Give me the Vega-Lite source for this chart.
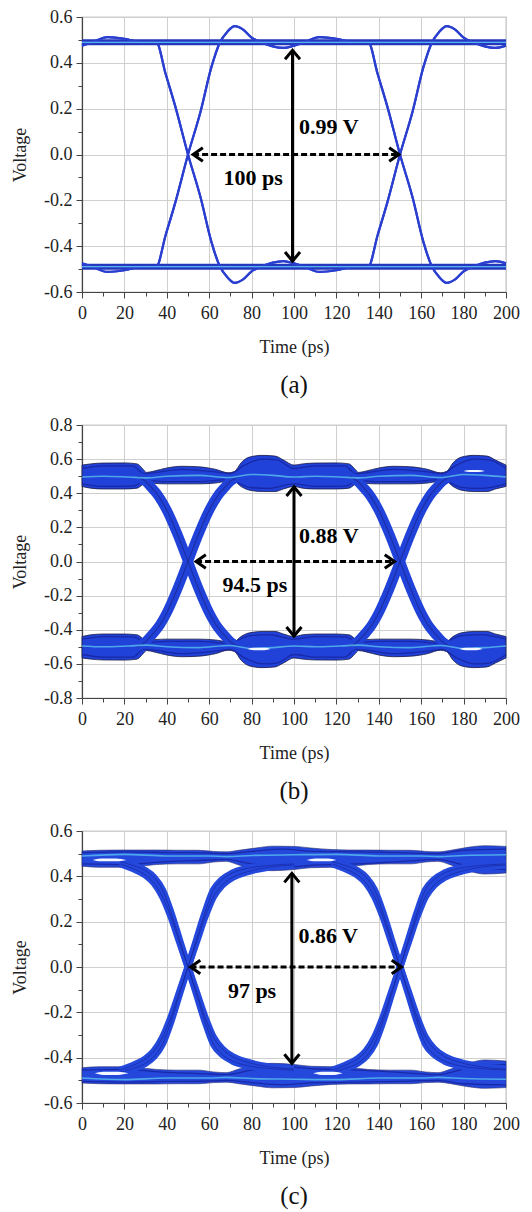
{
  "$schema": "https://vega.github.io/schema/vega-lite/v6.json",
  "padding": {"left": 10, "top": 7, "right": 10, "bottom": 5},
  "spacing": 16,
  "config": {
    "font": "Liberation Serif",
    "view": {"stroke": "#999999", "strokeWidth": 1.2},
    "axis": {"labelFont": "Liberation Serif", "titleFont": "Liberation Serif", "labelFontSize": 18, "titleFontSize": 18, "titleFontWeight": "normal", "labelColor": "#222222", "titleColor": "#222222", "gridColor": "#cfcfcf", "gridWidth": 1, "domainColor": "#444444", "domainWidth": 1.2, "tickColor": "#444444", "tickWidth": 1, "labelOverlap": false, "labelFlush": false},
    "axisX": {"labelPadding": 6, "titlePadding": 16},
    "axisY": {"labelPadding": 4, "titlePadding": 14},
    "title": {"font": "Liberation Serif", "fontSize": 25, "fontWeight": "normal", "color": "#111111", "offset": 17}
  },
  "datasets": {
    "a_tr": [
      {"id":"a1","t":0,"v":0.475},{"id":"a1","t":5,"v":0.49},{"id":"a1","t":12,"v":0.512},{"id":"a1","t":20,"v":0.505},{"id":"a1","t":28,"v":0.49},
      {"id":"a1","t":35,"v":0.49},{"id":"a1","t":39.5,"v":0.35},{"id":"a1","t":44,"v":0.21},{"id":"a1","t":50,"v":0},{"id":"a1","t":56,"v":-0.19},{"id":"a1","t":61,"v":-0.38},{"id":"a1","t":65,"v":-0.488},{"id":"a1","t":68.5,"v":-0.535},{"id":"a1","t":72,"v":-0.56},{"id":"a1","t":76,"v":-0.545},{"id":"a1","t":80,"v":-0.51},{"id":"a1","t":85,"v":-0.488},{"id":"a1","t":90,"v":-0.472},{"id":"a1","t":95,"v":-0.465},{"id":"a1","t":100,"v":-0.475},{"id":"a1","t":105,"v":-0.49},{"id":"a1","t":112,"v":-0.512},{"id":"a1","t":120,"v":-0.505},{"id":"a1","t":128,"v":-0.49},
      {"id":"a1","t":135,"v":-0.49},{"id":"a1","t":139.5,"v":-0.35},{"id":"a1","t":144,"v":-0.21},{"id":"a1","t":150,"v":0},{"id":"a1","t":156,"v":0.19},{"id":"a1","t":161,"v":0.38},{"id":"a1","t":165,"v":0.488},{"id":"a1","t":168.5,"v":0.535},{"id":"a1","t":172,"v":0.56},{"id":"a1","t":176,"v":0.545},{"id":"a1","t":180,"v":0.51},{"id":"a1","t":185,"v":0.488},{"id":"a1","t":190,"v":0.472},{"id":"a1","t":195,"v":0.465},{"id":"a1","t":200,"v":0.475},
      {"id":"a2","t":0,"v":0.49},{"id":"a2","t":35,"v":0.49},{"id":"a2","t":39.5,"v":0.35},{"id":"a2","t":44,"v":0.21},{"id":"a2","t":50,"v":0},{"id":"a2","t":56,"v":-0.19},{"id":"a2","t":61,"v":-0.38},{"id":"a2","t":65,"v":-0.488},{"id":"a2","t":68.5,"v":-0.535},{"id":"a2","t":72,"v":-0.56},{"id":"a2","t":76,"v":-0.545},{"id":"a2","t":80,"v":-0.51},{"id":"a2","t":85,"v":-0.488},{"id":"a2","t":90,"v":-0.472},{"id":"a2","t":95,"v":-0.465},{"id":"a2","t":100,"v":-0.475},{"id":"a2","t":105,"v":-0.49},{"id":"a2","t":112,"v":-0.512},{"id":"a2","t":120,"v":-0.505},{"id":"a2","t":128,"v":-0.49},{"id":"a2","t":200,"v":-0.49},
      {"id":"a3","t":0,"v":-0.475},{"id":"a3","t":5,"v":-0.49},{"id":"a3","t":12,"v":-0.512},{"id":"a3","t":20,"v":-0.505},{"id":"a3","t":28,"v":-0.49},
      {"id":"a3","t":35,"v":-0.49},{"id":"a3","t":39.5,"v":-0.35},{"id":"a3","t":44,"v":-0.21},{"id":"a3","t":50,"v":0},{"id":"a3","t":56,"v":0.19},{"id":"a3","t":61,"v":0.38},{"id":"a3","t":65,"v":0.488},{"id":"a3","t":68.5,"v":0.535},{"id":"a3","t":72,"v":0.56},{"id":"a3","t":76,"v":0.545},{"id":"a3","t":80,"v":0.51},{"id":"a3","t":85,"v":0.488},{"id":"a3","t":90,"v":0.472},{"id":"a3","t":95,"v":0.465},{"id":"a3","t":100,"v":0.475},{"id":"a3","t":105,"v":0.49},{"id":"a3","t":112,"v":0.512},{"id":"a3","t":120,"v":0.505},{"id":"a3","t":128,"v":0.49},
      {"id":"a3","t":135,"v":0.49},{"id":"a3","t":139.5,"v":0.35},{"id":"a3","t":144,"v":0.21},{"id":"a3","t":150,"v":0},{"id":"a3","t":156,"v":-0.19},{"id":"a3","t":161,"v":-0.38},{"id":"a3","t":165,"v":-0.488},{"id":"a3","t":168.5,"v":-0.535},{"id":"a3","t":172,"v":-0.56},{"id":"a3","t":176,"v":-0.545},{"id":"a3","t":180,"v":-0.51},{"id":"a3","t":185,"v":-0.488},{"id":"a3","t":190,"v":-0.472},{"id":"a3","t":195,"v":-0.465},{"id":"a3","t":200,"v":-0.475},
      {"id":"a4","t":0,"v":-0.49},{"id":"a4","t":35,"v":-0.49},{"id":"a4","t":39.5,"v":-0.35},{"id":"a4","t":44,"v":-0.21},{"id":"a4","t":50,"v":0},{"id":"a4","t":56,"v":0.19},{"id":"a4","t":61,"v":0.38},{"id":"a4","t":65,"v":0.488},{"id":"a4","t":68.5,"v":0.535},{"id":"a4","t":72,"v":0.56},{"id":"a4","t":76,"v":0.545},{"id":"a4","t":80,"v":0.51},{"id":"a4","t":85,"v":0.488},{"id":"a4","t":90,"v":0.472},{"id":"a4","t":95,"v":0.465},{"id":"a4","t":100,"v":0.475},{"id":"a4","t":105,"v":0.49},{"id":"a4","t":112,"v":0.512},{"id":"a4","t":120,"v":0.505},{"id":"a4","t":128,"v":0.49},{"id":"a4","t":200,"v":0.49},
      {"id":"a5","t":0,"v":0.475},{"id":"a5","t":5,"v":0.49},{"id":"a5","t":12,"v":0.512},{"id":"a5","t":20,"v":0.505},{"id":"a5","t":28,"v":0.49},{"id":"a5","t":135,"v":0.49},{"id":"a5","t":139.5,"v":0.35},{"id":"a5","t":144,"v":0.21},{"id":"a5","t":150,"v":0},{"id":"a5","t":156,"v":-0.19},{"id":"a5","t":161,"v":-0.38},{"id":"a5","t":165,"v":-0.488},{"id":"a5","t":168.5,"v":-0.535},{"id":"a5","t":172,"v":-0.56},{"id":"a5","t":176,"v":-0.545},{"id":"a5","t":180,"v":-0.51},{"id":"a5","t":185,"v":-0.488},{"id":"a5","t":190,"v":-0.472},{"id":"a5","t":195,"v":-0.465},{"id":"a5","t":200,"v":-0.475},
      {"id":"a6","t":0,"v":-0.475},{"id":"a6","t":5,"v":-0.49},{"id":"a6","t":12,"v":-0.512},{"id":"a6","t":20,"v":-0.505},{"id":"a6","t":28,"v":-0.49},{"id":"a6","t":135,"v":-0.49},{"id":"a6","t":139.5,"v":-0.35},{"id":"a6","t":144,"v":-0.21},{"id":"a6","t":150,"v":0},{"id":"a6","t":156,"v":0.19},{"id":"a6","t":161,"v":0.38},{"id":"a6","t":165,"v":0.488},{"id":"a6","t":168.5,"v":0.535},{"id":"a6","t":172,"v":0.56},{"id":"a6","t":176,"v":0.545},{"id":"a6","t":180,"v":0.51},{"id":"a6","t":185,"v":0.488},{"id":"a6","t":190,"v":0.472},{"id":"a6","t":195,"v":0.465},{"id":"a6","t":200,"v":0.475},
      {"id":"a7","t":0,"v":0.49},{"id":"a7","t":200,"v":0.49},
      {"id":"a8","t":0,"v":-0.49},{"id":"a8","t":200,"v":-0.49}
    ],
    "a_lv": [
      {"id":"l1","t":0,"v":0.483},{"id":"l1","t":200,"v":0.483},
      {"id":"l2","t":0,"v":0.496},{"id":"l2","t":200,"v":0.496},
      {"id":"l3","t":0,"v":-0.483},{"id":"l3","t":200,"v":-0.483},
      {"id":"l4","t":0,"v":-0.496},{"id":"l4","t":200,"v":-0.496}
    ],
    "a_cy": [
      {"id":"c1","t":0,"v":0.489},{"id":"c1","t":200,"v":0.489},
      {"id":"c2","t":0,"v":-0.489},{"id":"c2","t":200,"v":-0.489}
    ],
    "b_band": [
      {"id":"h","t":0,"v":0.44,"v2":0.565},{"id":"h","t":4,"v":0.43,"v2":0.572},{"id":"h","t":10,"v":0.425,"v2":0.577},{"id":"h","t":20,"v":0.425,"v2":0.578},{"id":"h","t":26,"v":0.43,"v2":0.572},{"id":"h","t":28.5,"v":0.45,"v2":0.545},{"id":"h","t":30.5,"v":0.468,"v2":0.522},{"id":"h","t":34,"v":0.458,"v2":0.53},{"id":"h","t":40,"v":0.455,"v2":0.548},{"id":"h","t":47,"v":0.455,"v2":0.558},{"id":"h","t":55,"v":0.455,"v2":0.555},{"id":"h","t":63,"v":0.46,"v2":0.54},{"id":"h","t":69,"v":0.47,"v2":0.52},{"id":"h","t":72,"v":0.468,"v2":0.528},{"id":"h","t":75,"v":0.44,"v2":0.578},{"id":"h","t":79,"v":0.418,"v2":0.612},{"id":"h","t":85,"v":0.41,"v2":0.622},{"id":"h","t":91,"v":0.41,"v2":0.618},{"id":"h","t":95,"v":0.425,"v2":0.595},{"id":"h","t":100,"v":0.44,"v2":0.565},
      {"id":"h","t":104,"v":0.43,"v2":0.572},{"id":"h","t":110,"v":0.425,"v2":0.577},{"id":"h","t":120,"v":0.425,"v2":0.578},{"id":"h","t":126,"v":0.43,"v2":0.572},{"id":"h","t":128.5,"v":0.45,"v2":0.545},{"id":"h","t":130.5,"v":0.468,"v2":0.522},{"id":"h","t":134,"v":0.458,"v2":0.53},{"id":"h","t":140,"v":0.455,"v2":0.548},{"id":"h","t":147,"v":0.455,"v2":0.558},{"id":"h","t":155,"v":0.455,"v2":0.555},{"id":"h","t":163,"v":0.46,"v2":0.54},{"id":"h","t":169,"v":0.47,"v2":0.52},{"id":"h","t":172,"v":0.468,"v2":0.528},{"id":"h","t":175,"v":0.44,"v2":0.578},{"id":"h","t":179,"v":0.418,"v2":0.612},{"id":"h","t":185,"v":0.41,"v2":0.622},{"id":"h","t":191,"v":0.41,"v2":0.618},{"id":"h","t":195,"v":0.425,"v2":0.595},{"id":"h","t":200,"v":0.44,"v2":0.565},
      {"id":"l","t":0,"v":-0.565,"v2":-0.44},{"id":"l","t":4,"v":-0.572,"v2":-0.43},{"id":"l","t":10,"v":-0.577,"v2":-0.425},{"id":"l","t":20,"v":-0.578,"v2":-0.425},{"id":"l","t":26,"v":-0.572,"v2":-0.43},{"id":"l","t":28.5,"v":-0.545,"v2":-0.45},{"id":"l","t":30.5,"v":-0.522,"v2":-0.468},{"id":"l","t":34,"v":-0.53,"v2":-0.458},{"id":"l","t":40,"v":-0.548,"v2":-0.455},{"id":"l","t":47,"v":-0.558,"v2":-0.455},{"id":"l","t":55,"v":-0.555,"v2":-0.455},{"id":"l","t":63,"v":-0.54,"v2":-0.46},{"id":"l","t":69,"v":-0.52,"v2":-0.47},{"id":"l","t":72,"v":-0.528,"v2":-0.468},{"id":"l","t":75,"v":-0.578,"v2":-0.44},{"id":"l","t":79,"v":-0.612,"v2":-0.418},{"id":"l","t":85,"v":-0.622,"v2":-0.41},{"id":"l","t":91,"v":-0.618,"v2":-0.41},{"id":"l","t":95,"v":-0.595,"v2":-0.425},{"id":"l","t":100,"v":-0.565,"v2":-0.44},
      {"id":"l","t":104,"v":-0.572,"v2":-0.43},{"id":"l","t":110,"v":-0.577,"v2":-0.425},{"id":"l","t":120,"v":-0.578,"v2":-0.425},{"id":"l","t":126,"v":-0.572,"v2":-0.43},{"id":"l","t":128.5,"v":-0.545,"v2":-0.45},{"id":"l","t":130.5,"v":-0.522,"v2":-0.468},{"id":"l","t":134,"v":-0.53,"v2":-0.458},{"id":"l","t":140,"v":-0.548,"v2":-0.455},{"id":"l","t":147,"v":-0.558,"v2":-0.455},{"id":"l","t":155,"v":-0.555,"v2":-0.455},{"id":"l","t":163,"v":-0.54,"v2":-0.46},{"id":"l","t":169,"v":-0.52,"v2":-0.47},{"id":"l","t":172,"v":-0.528,"v2":-0.468},{"id":"l","t":175,"v":-0.578,"v2":-0.44},{"id":"l","t":179,"v":-0.612,"v2":-0.418},{"id":"l","t":185,"v":-0.622,"v2":-0.41},{"id":"l","t":191,"v":-0.618,"v2":-0.41},{"id":"l","t":195,"v":-0.595,"v2":-0.425},{"id":"l","t":200,"v":-0.565,"v2":-0.44}
    ],
    "b_edge": [
      {"id":"f1","t":26,"v":0.5},{"id":"f1","t":30,"v":0.47},{"id":"f1","t":33,"v":0.43},{"id":"f1","t":36,"v":0.385},{"id":"f1","t":40,"v":0.3},{"id":"f1","t":45,"v":0.16},{"id":"f1","t":50,"v":0},{"id":"f1","t":55,"v":-0.16},{"id":"f1","t":60,"v":-0.3},{"id":"f1","t":64,"v":-0.385},{"id":"f1","t":67,"v":-0.43},{"id":"f1","t":70,"v":-0.47},{"id":"f1","t":74,"v":-0.5},
      {"id":"r1","t":26,"v":-0.5},{"id":"r1","t":30,"v":-0.47},{"id":"r1","t":33,"v":-0.43},{"id":"r1","t":36,"v":-0.385},{"id":"r1","t":40,"v":-0.3},{"id":"r1","t":45,"v":-0.16},{"id":"r1","t":50,"v":0},{"id":"r1","t":55,"v":0.16},{"id":"r1","t":60,"v":0.3},{"id":"r1","t":64,"v":0.385},{"id":"r1","t":67,"v":0.43},{"id":"r1","t":70,"v":0.47},{"id":"r1","t":74,"v":0.5},
      {"id":"f2","t":126,"v":0.5},{"id":"f2","t":130,"v":0.47},{"id":"f2","t":133,"v":0.43},{"id":"f2","t":136,"v":0.385},{"id":"f2","t":140,"v":0.3},{"id":"f2","t":145,"v":0.16},{"id":"f2","t":150,"v":0},{"id":"f2","t":155,"v":-0.16},{"id":"f2","t":160,"v":-0.3},{"id":"f2","t":164,"v":-0.385},{"id":"f2","t":167,"v":-0.43},{"id":"f2","t":170,"v":-0.47},{"id":"f2","t":174,"v":-0.5},
      {"id":"r2","t":126,"v":-0.5},{"id":"r2","t":130,"v":-0.47},{"id":"r2","t":133,"v":-0.43},{"id":"r2","t":136,"v":-0.385},{"id":"r2","t":140,"v":-0.3},{"id":"r2","t":145,"v":-0.16},{"id":"r2","t":150,"v":0},{"id":"r2","t":155,"v":0.16},{"id":"r2","t":160,"v":0.3},{"id":"r2","t":164,"v":0.385},{"id":"r2","t":167,"v":0.43},{"id":"r2","t":170,"v":0.47},{"id":"r2","t":174,"v":0.5}
    ],
    "b_lens": [
      {"id":"k1","t":78,"v":-0.513,"v2":-0.513},{"id":"k1","t":81,"v":-0.52,"v2":-0.506},{"id":"k1","t":86,"v":-0.52,"v2":-0.506},{"id":"k1","t":89,"v":-0.513,"v2":-0.513},
      {"id":"k2","t":178,"v":-0.513,"v2":-0.513},{"id":"k2","t":181,"v":-0.52,"v2":-0.506},{"id":"k2","t":186,"v":-0.52,"v2":-0.506},{"id":"k2","t":189,"v":-0.513,"v2":-0.513},
      {"id":"k3","t":180,"v":0.53,"v2":0.53},{"id":"k3","t":183,"v":0.524,"v2":0.536},{"id":"k3","t":187,"v":0.524,"v2":0.536},{"id":"k3","t":190,"v":0.53,"v2":0.53}
    ],
    "b_tex": [
      {"id":"h1","t":0,"v":0.495},{"id":"h1","t":10,"v":0.5},{"id":"h1","t":22,"v":0.495},{"id":"h1","t":30.5,"v":0.49},{"id":"h1","t":40,"v":0.5},{"id":"h1","t":55,"v":0.505},{"id":"h1","t":69,"v":0.492},{"id":"h1","t":72,"v":0.495},{"id":"h1","t":80,"v":0.51},{"id":"h1","t":90,"v":0.505},{"id":"h1","t":100,"v":0.495},{"id":"h1","t":110,"v":0.5},{"id":"h1","t":122,"v":0.495},{"id":"h1","t":130.5,"v":0.49},{"id":"h1","t":140,"v":0.5},{"id":"h1","t":155,"v":0.505},{"id":"h1","t":169,"v":0.492},{"id":"h1","t":172,"v":0.495},{"id":"h1","t":180,"v":0.51},{"id":"h1","t":190,"v":0.505},{"id":"h1","t":200,"v":0.495},
      {"id":"l1","t":0,"v":-0.495},{"id":"l1","t":10,"v":-0.5},{"id":"l1","t":22,"v":-0.495},{"id":"l1","t":30.5,"v":-0.49},{"id":"l1","t":40,"v":-0.5},{"id":"l1","t":55,"v":-0.505},{"id":"l1","t":69,"v":-0.492},{"id":"l1","t":72,"v":-0.495},{"id":"l1","t":80,"v":-0.51},{"id":"l1","t":90,"v":-0.505},{"id":"l1","t":100,"v":-0.495},{"id":"l1","t":110,"v":-0.5},{"id":"l1","t":122,"v":-0.495},{"id":"l1","t":130.5,"v":-0.49},{"id":"l1","t":140,"v":-0.5},{"id":"l1","t":155,"v":-0.505},{"id":"l1","t":169,"v":-0.492},{"id":"l1","t":172,"v":-0.495},{"id":"l1","t":180,"v":-0.51},{"id":"l1","t":190,"v":-0.505},{"id":"l1","t":200,"v":-0.495}
    ],
    "b_dark": [
      {"id":"h2","t":0,"v":0.545},{"id":"h2","t":10,"v":0.56},{"id":"h2","t":24,"v":0.56},{"id":"h2","t":29,"v":0.515},{"id":"h2","t":34,"v":0.52},{"id":"h2","t":47,"v":0.54},{"id":"h2","t":63,"v":0.525},{"id":"h2","t":70,"v":0.515},{"id":"h2","t":76,"v":0.56},{"id":"h2","t":85,"v":0.6},{"id":"h2","t":92,"v":0.595},{"id":"h2","t":100,"v":0.545},{"id":"h2","t":110,"v":0.56},{"id":"h2","t":124,"v":0.56},{"id":"h2","t":129,"v":0.515},{"id":"h2","t":134,"v":0.52},{"id":"h2","t":147,"v":0.54},{"id":"h2","t":163,"v":0.525},{"id":"h2","t":170,"v":0.515},{"id":"h2","t":176,"v":0.56},{"id":"h2","t":185,"v":0.6},{"id":"h2","t":192,"v":0.595},{"id":"h2","t":200,"v":0.545},
      {"id":"h3","t":0,"v":0.455},{"id":"h3","t":10,"v":0.44},{"id":"h3","t":24,"v":0.442},{"id":"h3","t":30.5,"v":0.475},{"id":"h3","t":40,"v":0.468},{"id":"h3","t":55,"v":0.468},{"id":"h3","t":69,"v":0.48},{"id":"h3","t":79,"v":0.435},{"id":"h3","t":88,"v":0.428},{"id":"h3","t":100,"v":0.455},{"id":"h3","t":110,"v":0.44},{"id":"h3","t":124,"v":0.442},{"id":"h3","t":130.5,"v":0.475},{"id":"h3","t":140,"v":0.468},{"id":"h3","t":155,"v":0.468},{"id":"h3","t":169,"v":0.48},{"id":"h3","t":179,"v":0.435},{"id":"h3","t":188,"v":0.428},{"id":"h3","t":200,"v":0.455},
      {"id":"l2","t":0,"v":-0.545},{"id":"l2","t":10,"v":-0.56},{"id":"l2","t":24,"v":-0.56},{"id":"l2","t":29,"v":-0.515},{"id":"l2","t":34,"v":-0.52},{"id":"l2","t":47,"v":-0.54},{"id":"l2","t":63,"v":-0.525},{"id":"l2","t":70,"v":-0.515},{"id":"l2","t":76,"v":-0.56},{"id":"l2","t":85,"v":-0.6},{"id":"l2","t":92,"v":-0.595},{"id":"l2","t":100,"v":-0.545},{"id":"l2","t":110,"v":-0.56},{"id":"l2","t":124,"v":-0.56},{"id":"l2","t":129,"v":-0.515},{"id":"l2","t":134,"v":-0.52},{"id":"l2","t":147,"v":-0.54},{"id":"l2","t":163,"v":-0.525},{"id":"l2","t":170,"v":-0.515},{"id":"l2","t":176,"v":-0.56},{"id":"l2","t":185,"v":-0.6},{"id":"l2","t":192,"v":-0.595},{"id":"l2","t":200,"v":-0.545},
      {"id":"l3","t":0,"v":-0.455},{"id":"l3","t":10,"v":-0.44},{"id":"l3","t":24,"v":-0.442},{"id":"l3","t":30.5,"v":-0.475},{"id":"l3","t":40,"v":-0.468},{"id":"l3","t":55,"v":-0.468},{"id":"l3","t":69,"v":-0.48},{"id":"l3","t":79,"v":-0.435},{"id":"l3","t":88,"v":-0.428},{"id":"l3","t":100,"v":-0.455},{"id":"l3","t":110,"v":-0.44},{"id":"l3","t":124,"v":-0.442},{"id":"l3","t":130.5,"v":-0.475},{"id":"l3","t":140,"v":-0.468},{"id":"l3","t":155,"v":-0.468},{"id":"l3","t":169,"v":-0.48},{"id":"l3","t":179,"v":-0.435},{"id":"l3","t":188,"v":-0.428},{"id":"l3","t":200,"v":-0.455}
    ],
    "c_band": [
      {"id":"h","t":0,"v":0.445,"v2":0.512},{"id":"h","t":8,"v":0.44,"v2":0.515},{"id":"h","t":18,"v":0.44,"v2":0.516},{"id":"h","t":26,"v":0.443,"v2":0.516},{"id":"h","t":35,"v":0.452,"v2":0.516},{"id":"h","t":45,"v":0.455,"v2":0.515},{"id":"h","t":55,"v":0.455,"v2":0.515},{"id":"h","t":62,"v":0.463,"v2":0.51},{"id":"h","t":68,"v":0.466,"v2":0.508},{"id":"h","t":74,"v":0.45,"v2":0.515},{"id":"h","t":82,"v":0.432,"v2":0.525},{"id":"h","t":90,"v":0.425,"v2":0.533},{"id":"h","t":100,"v":0.43,"v2":0.532},{"id":"h","t":108,"v":0.438,"v2":0.525},{"id":"h","t":118,"v":0.44,"v2":0.518},{"id":"h","t":126,"v":0.443,"v2":0.516},{"id":"h","t":135,"v":0.452,"v2":0.516},{"id":"h","t":145,"v":0.455,"v2":0.515},{"id":"h","t":155,"v":0.455,"v2":0.515},{"id":"h","t":162,"v":0.463,"v2":0.51},{"id":"h","t":168,"v":0.466,"v2":0.508},{"id":"h","t":174,"v":0.45,"v2":0.515},{"id":"h","t":182,"v":0.425,"v2":0.528},{"id":"h","t":190,"v":0.41,"v2":0.535},{"id":"h","t":200,"v":0.415,"v2":0.532},
      {"id":"l","t":0,"v":-0.512,"v2":-0.445},{"id":"l","t":8,"v":-0.515,"v2":-0.44},{"id":"l","t":18,"v":-0.516,"v2":-0.44},{"id":"l","t":26,"v":-0.516,"v2":-0.443},{"id":"l","t":35,"v":-0.516,"v2":-0.452},{"id":"l","t":45,"v":-0.515,"v2":-0.455},{"id":"l","t":55,"v":-0.515,"v2":-0.455},{"id":"l","t":62,"v":-0.51,"v2":-0.463},{"id":"l","t":68,"v":-0.508,"v2":-0.466},{"id":"l","t":74,"v":-0.515,"v2":-0.45},{"id":"l","t":82,"v":-0.525,"v2":-0.432},{"id":"l","t":90,"v":-0.533,"v2":-0.425},{"id":"l","t":100,"v":-0.532,"v2":-0.43},{"id":"l","t":108,"v":-0.525,"v2":-0.438},{"id":"l","t":118,"v":-0.518,"v2":-0.44},{"id":"l","t":126,"v":-0.516,"v2":-0.443},{"id":"l","t":135,"v":-0.516,"v2":-0.452},{"id":"l","t":145,"v":-0.515,"v2":-0.455},{"id":"l","t":155,"v":-0.515,"v2":-0.455},{"id":"l","t":162,"v":-0.51,"v2":-0.463},{"id":"l","t":168,"v":-0.508,"v2":-0.466},{"id":"l","t":174,"v":-0.515,"v2":-0.45},{"id":"l","t":182,"v":-0.528,"v2":-0.425},{"id":"l","t":190,"v":-0.535,"v2":-0.41},{"id":"l","t":200,"v":-0.532,"v2":-0.415}
    ],
    "c_edge": [
      {"id":"f1","t":18,"v":0.465},{"id":"f1","t":25,"v":0.445},{"id":"f1","t":30,"v":0.425},{"id":"f1","t":34,"v":0.395},{"id":"f1","t":38,"v":0.34},{"id":"f1","t":42,"v":0.24},{"id":"f1","t":46,"v":0.12},{"id":"f1","t":50,"v":0},{"id":"f1","t":54,"v":-0.12},{"id":"f1","t":58,"v":-0.24},{"id":"f1","t":62,"v":-0.34},{"id":"f1","t":66,"v":-0.385},{"id":"f1","t":71,"v":-0.415},{"id":"f1","t":78,"v":-0.435},{"id":"f1","t":88,"v":-0.448},{"id":"f1","t":100,"v":-0.455},
      {"id":"r1","t":18,"v":-0.465},{"id":"r1","t":25,"v":-0.445},{"id":"r1","t":30,"v":-0.425},{"id":"r1","t":34,"v":-0.395},{"id":"r1","t":38,"v":-0.34},{"id":"r1","t":42,"v":-0.24},{"id":"r1","t":46,"v":-0.12},{"id":"r1","t":50,"v":0},{"id":"r1","t":54,"v":0.12},{"id":"r1","t":58,"v":0.24},{"id":"r1","t":62,"v":0.34},{"id":"r1","t":66,"v":0.385},{"id":"r1","t":71,"v":0.415},{"id":"r1","t":78,"v":0.435},{"id":"r1","t":88,"v":0.448},{"id":"r1","t":100,"v":0.455},
      {"id":"f2","t":118,"v":0.465},{"id":"f2","t":125,"v":0.445},{"id":"f2","t":130,"v":0.425},{"id":"f2","t":134,"v":0.395},{"id":"f2","t":138,"v":0.34},{"id":"f2","t":142,"v":0.24},{"id":"f2","t":146,"v":0.12},{"id":"f2","t":150,"v":0},{"id":"f2","t":154,"v":-0.12},{"id":"f2","t":158,"v":-0.24},{"id":"f2","t":162,"v":-0.34},{"id":"f2","t":166,"v":-0.385},{"id":"f2","t":171,"v":-0.415},{"id":"f2","t":178,"v":-0.435},{"id":"f2","t":188,"v":-0.448},{"id":"f2","t":200,"v":-0.455},
      {"id":"r2","t":118,"v":-0.465},{"id":"r2","t":125,"v":-0.445},{"id":"r2","t":130,"v":-0.425},{"id":"r2","t":134,"v":-0.395},{"id":"r2","t":138,"v":-0.34},{"id":"r2","t":142,"v":-0.24},{"id":"r2","t":146,"v":-0.12},{"id":"r2","t":150,"v":0},{"id":"r2","t":154,"v":0.12},{"id":"r2","t":158,"v":0.24},{"id":"r2","t":162,"v":0.34},{"id":"r2","t":166,"v":0.385},{"id":"r2","t":171,"v":0.415},{"id":"r2","t":178,"v":0.435},{"id":"r2","t":188,"v":0.448},{"id":"r2","t":200,"v":0.455},
      {"id":"f1b","t":18,"v":0.455},{"id":"f1b","t":25,"v":0.43},{"id":"f1b","t":30,"v":0.405},{"id":"f1b","t":34,"v":0.37},{"id":"f1b","t":38,"v":0.31},{"id":"f1b","t":42,"v":0.22},{"id":"f1b","t":46,"v":0.11},{"id":"f1b","t":50,"v":0},{"id":"f1b","t":54,"v":-0.11},{"id":"f1b","t":58,"v":-0.22},{"id":"f1b","t":62,"v":-0.31},{"id":"f1b","t":66,"v":-0.36},{"id":"f1b","t":71,"v":-0.395},{"id":"f1b","t":78,"v":-0.42},{"id":"f1b","t":88,"v":-0.44},{"id":"f1b","t":100,"v":-0.45},
      {"id":"r1b","t":18,"v":-0.455},{"id":"r1b","t":25,"v":-0.43},{"id":"r1b","t":30,"v":-0.405},{"id":"r1b","t":34,"v":-0.37},{"id":"r1b","t":38,"v":-0.31},{"id":"r1b","t":42,"v":-0.22},{"id":"r1b","t":46,"v":-0.11},{"id":"r1b","t":50,"v":0},{"id":"r1b","t":54,"v":0.11},{"id":"r1b","t":58,"v":0.22},{"id":"r1b","t":62,"v":0.31},{"id":"r1b","t":66,"v":0.36},{"id":"r1b","t":71,"v":0.395},{"id":"r1b","t":78,"v":0.42},{"id":"r1b","t":88,"v":0.44},{"id":"r1b","t":100,"v":0.45},
      {"id":"f2b","t":118,"v":0.455},{"id":"f2b","t":125,"v":0.43},{"id":"f2b","t":130,"v":0.405},{"id":"f2b","t":134,"v":0.37},{"id":"f2b","t":138,"v":0.31},{"id":"f2b","t":142,"v":0.22},{"id":"f2b","t":146,"v":0.11},{"id":"f2b","t":150,"v":0},{"id":"f2b","t":154,"v":-0.11},{"id":"f2b","t":158,"v":-0.22},{"id":"f2b","t":162,"v":-0.31},{"id":"f2b","t":166,"v":-0.36},{"id":"f2b","t":171,"v":-0.395},{"id":"f2b","t":178,"v":-0.42},{"id":"f2b","t":188,"v":-0.44},{"id":"f2b","t":200,"v":-0.45},
      {"id":"r2b","t":118,"v":-0.455},{"id":"r2b","t":125,"v":-0.43},{"id":"r2b","t":130,"v":-0.405},{"id":"r2b","t":134,"v":-0.37},{"id":"r2b","t":138,"v":-0.31},{"id":"r2b","t":142,"v":-0.22},{"id":"r2b","t":146,"v":-0.11},{"id":"r2b","t":150,"v":0},{"id":"r2b","t":154,"v":0.11},{"id":"r2b","t":158,"v":0.22},{"id":"r2b","t":162,"v":0.31},{"id":"r2b","t":166,"v":0.36},{"id":"r2b","t":171,"v":0.395},{"id":"r2b","t":178,"v":0.42},{"id":"r2b","t":188,"v":0.44},{"id":"r2b","t":200,"v":0.45}
    ],
    "c_lens": [
      {"id":"k1","t":5,"v":0.472,"v2":0.472},{"id":"k1","t":9,"v":0.466,"v2":0.479},{"id":"k1","t":16,"v":0.466,"v2":0.479},{"id":"k1","t":21,"v":0.472,"v2":0.472},
      {"id":"k2","t":106,"v":0.472,"v2":0.472},{"id":"k2","t":110,"v":0.466,"v2":0.479},{"id":"k2","t":116,"v":0.466,"v2":0.479},{"id":"k2","t":120,"v":0.472,"v2":0.472},
      {"id":"k3","t":6,"v":-0.469,"v2":-0.469},{"id":"k3","t":10,"v":-0.476,"v2":-0.462},{"id":"k3","t":17,"v":-0.476,"v2":-0.462},{"id":"k3","t":22,"v":-0.469,"v2":-0.469},
      {"id":"k4","t":109,"v":-0.469,"v2":-0.469},{"id":"k4","t":113,"v":-0.476,"v2":-0.462},{"id":"k4","t":119,"v":-0.476,"v2":-0.462},{"id":"k4","t":123,"v":-0.469,"v2":-0.469}
    ],
    "c_tex": [
      {"id":"h1","t":0,"v":0.49},{"id":"h1","t":20,"v":0.497},{"id":"h1","t":40,"v":0.49},{"id":"h1","t":60,"v":0.49},{"id":"h1","t":68,"v":0.487},{"id":"h1","t":80,"v":0.492},{"id":"h1","t":100,"v":0.495},{"id":"h1","t":120,"v":0.497},{"id":"h1","t":140,"v":0.49},{"id":"h1","t":160,"v":0.49},{"id":"h1","t":168,"v":0.487},{"id":"h1","t":180,"v":0.492},{"id":"h1","t":200,"v":0.495},
      {"id":"l1","t":0,"v":-0.49},{"id":"l1","t":20,"v":-0.497},{"id":"l1","t":40,"v":-0.49},{"id":"l1","t":60,"v":-0.49},{"id":"l1","t":68,"v":-0.487},{"id":"l1","t":80,"v":-0.492},{"id":"l1","t":100,"v":-0.495},{"id":"l1","t":120,"v":-0.497},{"id":"l1","t":140,"v":-0.49},{"id":"l1","t":160,"v":-0.49},{"id":"l1","t":168,"v":-0.487},{"id":"l1","t":180,"v":-0.492},{"id":"l1","t":200,"v":-0.495}
    ],
    "c_dark": [
      {"id":"h2","t":0,"v":0.505},{"id":"h2","t":20,"v":0.508},{"id":"h2","t":40,"v":0.505},{"id":"h2","t":60,"v":0.503},{"id":"h2","t":68,"v":0.5},{"id":"h2","t":80,"v":0.51},{"id":"h2","t":95,"v":0.52},{"id":"h2","t":110,"v":0.51},{"id":"h2","t":130,"v":0.508},{"id":"h2","t":150,"v":0.505},{"id":"h2","t":168,"v":0.5},{"id":"h2","t":180,"v":0.515},{"id":"h2","t":200,"v":0.52},
      {"id":"h3","t":0,"v":0.455},{"id":"h3","t":20,"v":0.452},{"id":"h3","t":40,"v":0.465},{"id":"h3","t":60,"v":0.472},{"id":"h3","t":68,"v":0.475},{"id":"h3","t":80,"v":0.455},{"id":"h3","t":95,"v":0.44},{"id":"h3","t":110,"v":0.45},{"id":"h3","t":130,"v":0.455},{"id":"h3","t":150,"v":0.465},{"id":"h3","t":168,"v":0.475},{"id":"h3","t":180,"v":0.45},{"id":"h3","t":200,"v":0.43},
      {"id":"l2","t":0,"v":-0.505},{"id":"l2","t":20,"v":-0.508},{"id":"l2","t":40,"v":-0.505},{"id":"l2","t":60,"v":-0.503},{"id":"l2","t":68,"v":-0.5},{"id":"l2","t":80,"v":-0.51},{"id":"l2","t":95,"v":-0.52},{"id":"l2","t":110,"v":-0.51},{"id":"l2","t":130,"v":-0.508},{"id":"l2","t":150,"v":-0.505},{"id":"l2","t":168,"v":-0.5},{"id":"l2","t":180,"v":-0.515},{"id":"l2","t":200,"v":-0.52},
      {"id":"l3","t":0,"v":-0.455},{"id":"l3","t":20,"v":-0.452},{"id":"l3","t":40,"v":-0.465},{"id":"l3","t":60,"v":-0.472},{"id":"l3","t":68,"v":-0.475},{"id":"l3","t":80,"v":-0.455},{"id":"l3","t":95,"v":-0.44},{"id":"l3","t":110,"v":-0.45},{"id":"l3","t":130,"v":-0.455},{"id":"l3","t":150,"v":-0.465},{"id":"l3","t":168,"v":-0.475},{"id":"l3","t":180,"v":-0.45},{"id":"l3","t":200,"v":-0.43}
    ]
  },
  "vconcat": [
    {
      "width": 424, "height": 275,
      "title": {"text": "(a)", "orient": "bottom"},
      "encoding": {
        "x": {"field": "t", "type": "quantitative", "scale": {"domain": [0, 200], "nice": false, "zero": false},
          "axis": {"title": "Time (ps)", "values": [0,10,20,30,40,50,60,70,80,90,100,110,120,130,140,150,160,170,180,190,200],
            "labelExpr": "datum.value % 20 === 0 ? datum.label : ''",
            "gridOpacity": {"condition": {"test": "datum.value % 20 !== 0", "value": 0}, "value": 1},
            "tickSize": {"condition": {"test": "datum.value % 20 !== 0", "value": 4}, "value": 6}}},
        "y": {"field": "v", "type": "quantitative", "scale": {"domain": [-0.6, 0.6], "nice": false, "zero": false},
          "axis": {"title": "Voltage", "values": [-0.6,-0.5,-0.4,-0.3,-0.2,-0.1,0,0.1,0.2,0.3,0.4,0.5,0.6],
            "labelExpr": "abs(round(datum.value*10)) % 2 === 0 ? replace(format(datum.value, '.1f'), '\u2212', '-') : ''",
            "gridOpacity": {"condition": {"test": "abs(round(datum.value*10)) % 2 !== 0", "value": 0}, "value": 1},
            "tickSize": {"condition": {"test": "abs(round(datum.value*10)) % 2 !== 0", "value": 4}, "value": 6}}}
      },
      "layer": [
        {"data": {"name": "a_lv"}, "mark": {"type": "line", "color": "#2536b8", "strokeWidth": 3, "interpolate": "linear"}, "encoding": {"detail": {"field": "id"}}},
        {"data": {"name": "a_tr"}, "mark": {"type": "line", "color": "#2a3fd0", "strokeWidth": 2.2, "interpolate": "monotone"}, "encoding": {"detail": {"field": "id"}}},
        {"data": {"name": "a_cy"}, "mark": {"type": "line", "color": "#5cc8f0", "strokeWidth": 1.2, "opacity": 0.85}, "encoding": {"detail": {"field": "id"}}},
        {"data": {"values": [{"t": 99.3, "v": -0.465, "v2": 0.455}]}, "mark": {"type": "rule", "color": "#000000", "strokeWidth": 3}, "encoding": {"y2": {"field": "v2"}}},
        {"data": {"values": [{"t": 52.4, "t2": 149.5, "v": 0}]}, "mark": {"type": "rule", "color": "#000000", "strokeWidth": 3, "strokeDash": [6, 3]}, "encoding": {"x2": {"field": "t2"}}},
        {"data": {"values": [{"t": 99.3, "v": 0.455, "dir": "up"}, {"t": 99.3, "v": -0.465, "dir": "down"}, {"t": 52.4, "v": 0, "dir": "left"}, {"t": 149.5, "v": 0, "dir": "right"}]},
          "mark": {"type": "point", "filled": false, "color": "#000000", "strokeWidth": 3, "size": 225, "opacity": 1},
          "encoding": {"shape": {"field": "dir", "type": "nominal", "legend": null, "scale": {"domain": ["up", "down", "left", "right"], "range": ["M-1,1.2L0,0L1,1.2", "M-1,-1.2L0,0L1,-1.2", "M1.3,-0.9L0,0L1.3,0.9", "M-1.3,-0.9L0,0L-1.3,0.9"]}}}},
        {"data": {"values": [{"t": 102.4, "v": 0.088, "label": "0.99 V"}]}, "mark": {"type": "text", "align": "left", "baseline": "alphabetic", "font": "Liberation Serif", "fontWeight": "bold", "fontSize": 22, "color": "#000000"}, "encoding": {"text": {"field": "label"}}},
        {"data": {"values": [{"t": 80.7, "v": -0.133, "label": "100 ps"}]}, "mark": {"type": "text", "align": "center", "baseline": "alphabetic", "font": "Liberation Serif", "fontWeight": "bold", "fontSize": 22, "color": "#000000"}, "encoding": {"text": {"field": "label"}}}
      ]
    },
    {
      "width": 424, "height": 273,
      "title": {"text": "(b)", "orient": "bottom"},
      "encoding": {
        "x": {"field": "t", "type": "quantitative", "scale": {"domain": [0, 200], "nice": false, "zero": false},
          "axis": {"title": "Time (ps)", "values": [0,10,20,30,40,50,60,70,80,90,100,110,120,130,140,150,160,170,180,190,200],
            "labelExpr": "datum.value % 20 === 0 ? datum.label : ''",
            "gridOpacity": {"condition": {"test": "datum.value % 20 !== 0", "value": 0}, "value": 1},
            "tickSize": {"condition": {"test": "datum.value % 20 !== 0", "value": 4}, "value": 6}}},
        "y": {"field": "v", "type": "quantitative", "scale": {"domain": [-0.8, 0.8], "nice": false, "zero": false},
          "axis": {"title": "Voltage", "values": [-0.8,-0.7,-0.6,-0.5,-0.4,-0.3,-0.2,-0.1,0,0.1,0.2,0.3,0.4,0.5,0.6,0.7,0.8],
            "labelExpr": "abs(round(datum.value*10)) % 2 === 0 ? replace(format(datum.value, '.1f'), '\u2212', '-') : ''",
            "gridOpacity": {"condition": {"test": "abs(round(datum.value*10)) % 2 !== 0", "value": 0}, "value": 1},
            "tickSize": {"condition": {"test": "abs(round(datum.value*10)) % 2 !== 0", "value": 4}, "value": 6}}}
      },
      "layer": [
        {"data": {"name": "b_band"}, "mark": {"type": "area", "color": "#2142d8", "opacity": 1, "stroke": "#1a1a40", "strokeWidth": 0.8, "interpolate": "monotone"}, "encoding": {"y2": {"field": "v2"}, "detail": {"field": "id"}}},
        {"data": {"name": "b_dark"}, "mark": {"type": "line", "color": "#16229a", "strokeWidth": 1.3, "opacity": 0.8, "interpolate": "monotone"}, "encoding": {"detail": {"field": "id"}}},
        {"data": {"name": "b_edge"}, "mark": {"type": "line", "color": "#2142d8", "strokeWidth": 10, "interpolate": "monotone"}, "encoding": {"detail": {"field": "id"}}},
        {"data": {"name": "b_edge"}, "mark": {"type": "line", "color": "#1a2a9a", "strokeWidth": 1.2, "opacity": 0.8, "interpolate": "monotone"}, "encoding": {"detail": {"field": "id"}}},
        {"data": {"name": "b_tex"}, "mark": {"type": "line", "color": "#5cc8f0", "strokeWidth": 1.6, "opacity": 0.75, "interpolate": "monotone"}, "encoding": {"detail": {"field": "id"}}},
        {"data": {"name": "b_lens"}, "mark": {"type": "area", "color": "#f4f8ff", "opacity": 1, "interpolate": "monotone"}, "encoding": {"y2": {"field": "v2"}, "detail": {"field": "id"}}},
        {"data": {"values": [{"t": 100, "v": -0.437, "v2": 0.437}]}, "mark": {"type": "rule", "color": "#000000", "strokeWidth": 3}, "encoding": {"y2": {"field": "v2"}}},
        {"data": {"values": [{"t": 53.8, "t2": 147.4, "v": 0}]}, "mark": {"type": "rule", "color": "#000000", "strokeWidth": 3, "strokeDash": [6, 3]}, "encoding": {"x2": {"field": "t2"}}},
        {"data": {"values": [{"t": 100, "v": 0.437, "dir": "up"}, {"t": 100, "v": -0.437, "dir": "down"}, {"t": 53.8, "v": 0, "dir": "left"}, {"t": 147.4, "v": 0, "dir": "right"}]},
          "mark": {"type": "point", "filled": false, "color": "#000000", "strokeWidth": 3, "size": 225, "opacity": 1},
          "encoding": {"shape": {"field": "dir", "type": "nominal", "legend": null, "scale": {"domain": ["up", "down", "left", "right"], "range": ["M-1,1.2L0,0L1,1.2", "M-1,-1.2L0,0L1,-1.2", "M1.3,-0.9L0,0L1.3,0.9", "M-1.3,-0.9L0,0L-1.3,0.9"]}}}},
        {"data": {"values": [{"t": 102.4, "v": 0.11, "label": "0.88 V"}]}, "mark": {"type": "text", "align": "left", "baseline": "alphabetic", "font": "Liberation Serif", "fontWeight": "bold", "fontSize": 22, "color": "#000000"}, "encoding": {"text": {"field": "label"}}},
        {"data": {"values": [{"t": 81.6, "v": -0.177, "label": "94.5 ps"}]}, "mark": {"type": "text", "align": "center", "baseline": "alphabetic", "font": "Liberation Serif", "fontWeight": "bold", "fontSize": 22, "color": "#000000"}, "encoding": {"text": {"field": "label"}}}
      ]
    },
    {
      "width": 424, "height": 272,
      "title": {"text": "(c)", "orient": "bottom"},
      "encoding": {
        "x": {"field": "t", "type": "quantitative", "scale": {"domain": [0, 200], "nice": false, "zero": false},
          "axis": {"title": "Time (ps)", "values": [0,10,20,30,40,50,60,70,80,90,100,110,120,130,140,150,160,170,180,190,200],
            "labelExpr": "datum.value % 20 === 0 ? datum.label : ''",
            "gridOpacity": {"condition": {"test": "datum.value % 20 !== 0", "value": 0}, "value": 1},
            "tickSize": {"condition": {"test": "datum.value % 20 !== 0", "value": 4}, "value": 6}}},
        "y": {"field": "v", "type": "quantitative", "scale": {"domain": [-0.6, 0.6], "nice": false, "zero": false},
          "axis": {"title": "Voltage", "values": [-0.6,-0.5,-0.4,-0.3,-0.2,-0.1,0,0.1,0.2,0.3,0.4,0.5,0.6],
            "labelExpr": "abs(round(datum.value*10)) % 2 === 0 ? replace(format(datum.value, '.1f'), '\u2212', '-') : ''",
            "gridOpacity": {"condition": {"test": "abs(round(datum.value*10)) % 2 !== 0", "value": 0}, "value": 1},
            "tickSize": {"condition": {"test": "abs(round(datum.value*10)) % 2 !== 0", "value": 4}, "value": 6}}}
      },
      "layer": [
        {"data": {"name": "c_band"}, "mark": {"type": "area", "color": "#2448dc", "opacity": 1, "stroke": "#2a2a6a", "strokeWidth": 0.6, "interpolate": "monotone"}, "encoding": {"y2": {"field": "v2"}, "detail": {"field": "id"}}},
        {"data": {"name": "c_dark"}, "mark": {"type": "line", "color": "#16229a", "strokeWidth": 1.3, "opacity": 0.8, "interpolate": "monotone"}, "encoding": {"detail": {"field": "id"}}},
        {"data": {"name": "c_edge"}, "mark": {"type": "line", "color": "#2448dc", "strokeWidth": 7, "interpolate": "monotone"}, "encoding": {"detail": {"field": "id"}}},
        {"data": {"name": "c_edge"}, "mark": {"type": "line", "color": "#16229a", "strokeWidth": 1, "opacity": 0.6, "interpolate": "monotone"}, "encoding": {"detail": {"field": "id"}}},
        {"data": {"name": "c_tex"}, "mark": {"type": "line", "color": "#5cc8f0", "strokeWidth": 1.6, "opacity": 0.75, "interpolate": "monotone"}, "encoding": {"detail": {"field": "id"}}},
        {"data": {"name": "c_lens"}, "mark": {"type": "area", "color": "#f4f8ff", "opacity": 1, "interpolate": "monotone"}, "encoding": {"y2": {"field": "v2"}, "detail": {"field": "id"}}},
        {"data": {"values": [{"t": 99, "v": -0.425, "v2": 0.413}]}, "mark": {"type": "rule", "color": "#000000", "strokeWidth": 3}, "encoding": {"y2": {"field": "v2"}}},
        {"data": {"values": [{"t": 51.2, "t2": 150.7, "v": 0}]}, "mark": {"type": "rule", "color": "#000000", "strokeWidth": 3, "strokeDash": [6, 3]}, "encoding": {"x2": {"field": "t2"}}},
        {"data": {"values": [{"t": 99, "v": 0.413, "dir": "up"}, {"t": 99, "v": -0.425, "dir": "down"}, {"t": 51.2, "v": 0, "dir": "left"}, {"t": 150.7, "v": 0, "dir": "right"}]},
          "mark": {"type": "point", "filled": false, "color": "#000000", "strokeWidth": 3, "size": 225, "opacity": 1},
          "encoding": {"shape": {"field": "dir", "type": "nominal", "legend": null, "scale": {"domain": ["up", "down", "left", "right"], "range": ["M-1,1.2L0,0L1,1.2", "M-1,-1.2L0,0L1,-1.2", "M1.3,-0.9L0,0L1.3,0.9", "M-1.3,-0.9L0,0L-1.3,0.9"]}}}},
        {"data": {"values": [{"t": 102.1, "v": 0.105, "label": "0.86 V"}]}, "mark": {"type": "text", "align": "left", "baseline": "alphabetic", "font": "Liberation Serif", "fontWeight": "bold", "fontSize": 22, "color": "#000000"}, "encoding": {"text": {"field": "label"}}},
        {"data": {"values": [{"t": 80.2, "v": -0.138, "label": "97 ps"}]}, "mark": {"type": "text", "align": "center", "baseline": "alphabetic", "font": "Liberation Serif", "fontWeight": "bold", "fontSize": 22, "color": "#000000"}, "encoding": {"text": {"field": "label"}}}
      ]
    }
  ]
}
